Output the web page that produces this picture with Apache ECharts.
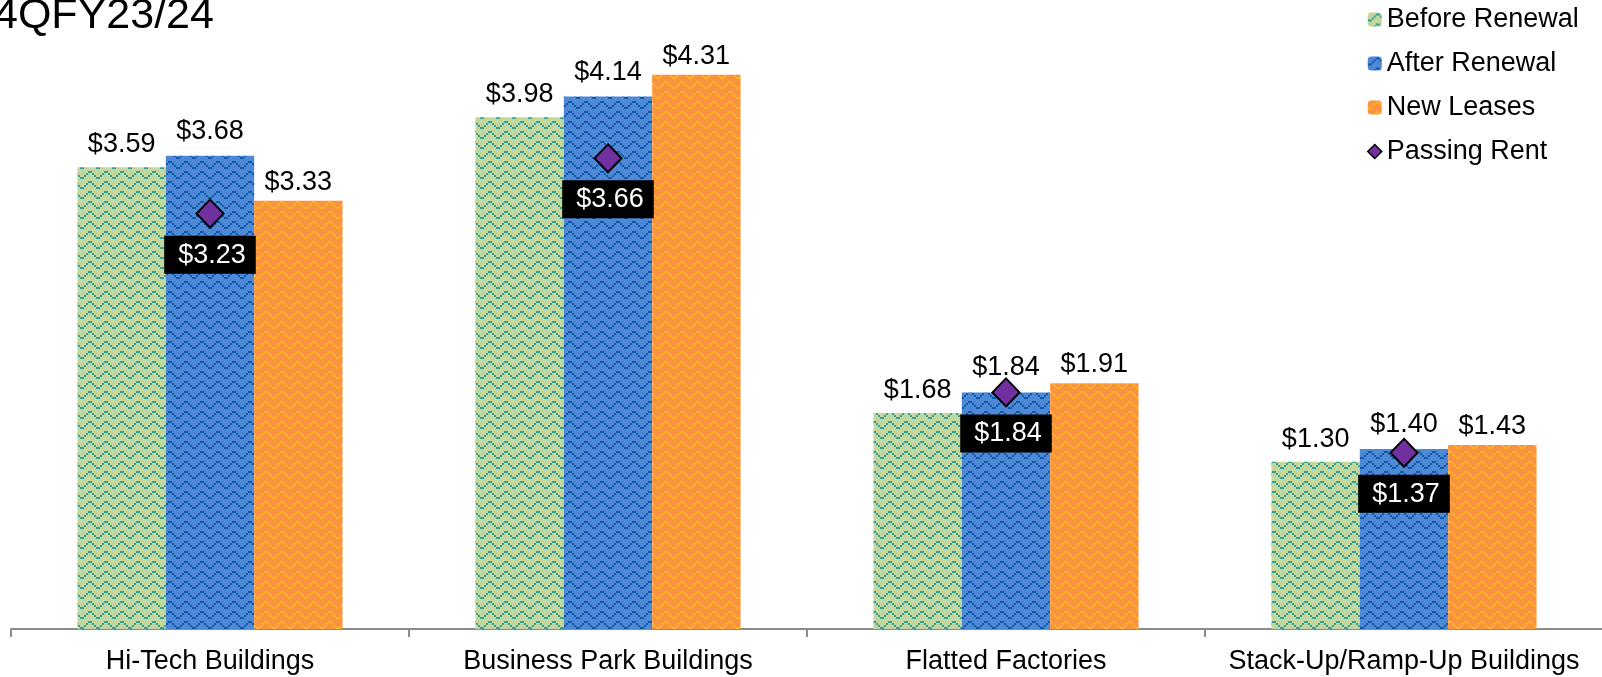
<!DOCTYPE html>
<html>
<head>
<meta charset="utf-8">
<script src="https://cdn.jsdelivr.net/npm/echarts@6/dist/echarts.min.js"></script>
<style>
html,body{margin:0;padding:0;background:#fff;}
#c{width:1602px;height:677px;}
</style>
</head>
<body>
<div id="c"></div>
<script>
const categories = ['Hi-Tech Buildings', 'Business Park Buildings', 'Flatted Factories', 'Stack-Up/Ramp-Up Buildings'];
const beforeRenewal = [3.59, 3.98, 1.68, 1.30];
const afterRenewal = [3.68, 4.14, 1.84, 1.40];
const newLeases = [3.33, 4.31, 1.91, 1.43];
const passingRent = [3.23, 3.66, 1.84, 1.37];
const titleText = '4QFY23/24';

const FONT = "'Liberation Sans', Arial, sans-serif";

function makePattern(bg, fg) {
  const c = document.createElement('canvas');
  c.width = 16; c.height = 10;
  const ctx = c.getContext('2d');
  ctx.fillStyle = bg; ctx.fillRect(0, 0, 16, 10);
  ctx.fillStyle = fg;
  // stepped zigzag, 2px blocks
  const ys = [6, 6, 4, 2, 0, 0, 2, 4];
  ys.forEach((y, i) => ctx.fillRect(i * 2, y + 1, 2, 2));
  return { image: c, repeat: 'repeat' };
}

const greenPat = makePattern('#c3d69b', '#33a19a');
const bluePat = makePattern('#4f88d4', '#0b5cae');
const orangePat = makePattern('#fb9240', '#ffb820');

const money = p => '$' + Number(p.value).toFixed(2);

function barSeries(name, data, pat, dist) {
  return {
    name, type: 'bar', data,
    barGap: '0%', barCategoryGap: '33.4%',
    itemStyle: { color: pat },
    label: {
      show: true, position: 'top', distance: dist, formatter: money,
      color: '#000', fontSize: 27, fontFamily: FONT
    },
    z: 2
  };
}

const chart = echarts.init(document.getElementById('c'), null, { renderer: 'canvas' });
chart.setOption({
  animation: false,
  backgroundColor: '#ffffff',
  title: {
    text: titleText, left: -11, top: -10,
    textStyle: { fontSize: 43, fontWeight: 'normal', color: '#000', fontFamily: FONT }
  },
  legend: {
    orient: 'vertical', left: 1362, top: 1,
    itemWidth: 14, itemHeight: 14, itemGap: 17,
    textStyle: { fontSize: 27, color: '#000', fontFamily: FONT },
    data: [
      { name: 'Before Renewal' },
      { name: 'After Renewal' },
      { name: 'New Leases' },
      { name: 'Passing Rent', icon: 'diamond', itemStyle: { color: '#7030a0', borderColor: '#000', borderWidth: 1.5 } }
    ]
  },
  grid: { left: 11, right: -1, top: 50.3, bottom: 48, containLabel: false, outerBoundsMode: 'none' },
  xAxis: {
    type: 'category', data: categories,
    axisLine: { show: true, lineStyle: { color: '#8c8c8c', width: 2 } },
    axisTick: { show: true, length: 8, lineStyle: { color: '#8c8c8c', width: 2 } },
    axisLabel: { fontSize: 27, color: '#000', fontFamily: FONT, margin: 19, interval: 0 }
  },
  yAxis: {
    type: 'value', min: 0, max: 4.5, interval: 0.5, show: false,
    splitLine: { show: false }
  },
  series: [
    barSeries('Before Renewal', beforeRenewal, greenPat, 9),
    barSeries('After Renewal', afterRenewal, bluePat, 11),
    barSeries('New Leases', newLeases, orangePat, 5),
    {
      name: 'Passing Rent', type: 'scatter', data: passingRent,
      symbol: 'diamond', symbolSize: [27, 28],
      itemStyle: { color: '#7030a0', borderColor: '#000', borderWidth: 2, opacity: 1 },
      label: {
        show: true, position: 'bottom', distance: 7, formatter: money,
        color: '#fff', backgroundColor: '#000', padding: [6, 10, 5, 14],
        fontSize: 27, fontFamily: FONT
      },
      z: 5
    }
  ]
});
</script>
</body>
</html>
